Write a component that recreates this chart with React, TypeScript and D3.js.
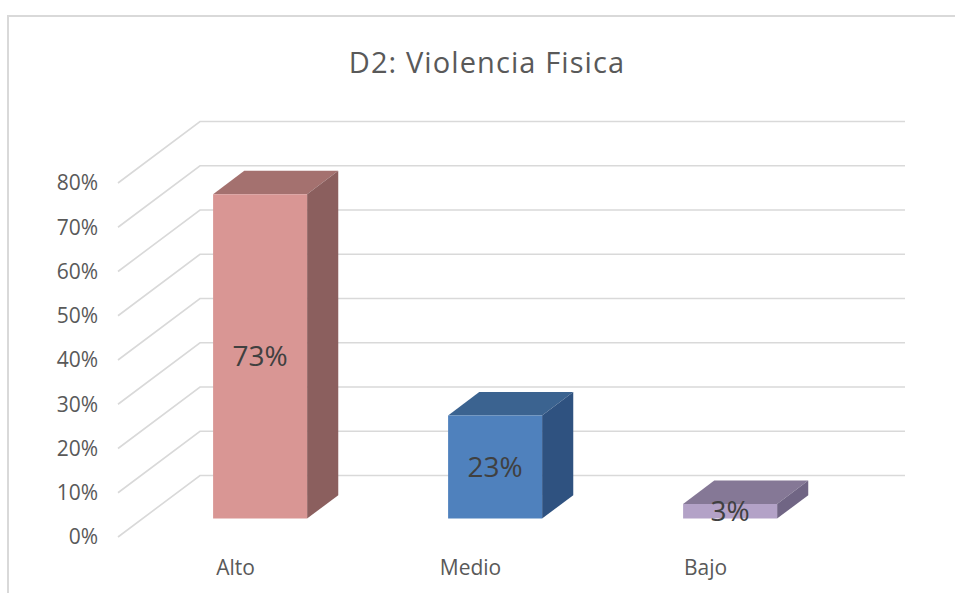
import React, { useEffect, useRef } from "react";
import * as d3 from "d3";

const categories = ["Alto", "Medio", "Bajo"];
const values = [0.733, 0.233, 0.033];
const yTicks = [0, 0.1, 0.2, 0.3, 0.4, 0.5, 0.6, 0.7, 0.8];
const frontColors = ["#D99694", "#4F81BD", "#B3A2C7"];
const topColors = ["#A4716F", "#3B6390", "#857896"];
const sideColors = ["#8B5F5E", "#2F5280", "#706584"];

const App = () => {
  const svgRef = useRef<SVGSVGElement>(null);

  useEffect(() => {
    const width = 955, height = 593;
    const svg = d3.select(svgRef.current);
    svg.selectAll("*").remove();
    svg.attr("width", width).attr("height", height);

    // oblique depth: full depth shifts right and up
    const depthX = 82, depthY = -61.5;
    const y = d3.scaleLinear().domain([0, 0.8]).range([537, 183]);
    const x = d3.scaleBand<string>()
      .domain(categories)
      .range([118, 823])
      .paddingInner(0.6)
      .paddingOuter(0.3);
    const dFront = 0.3, dBack = 0.68;
    const pt = (px: number, v: number, d: number): [number, number] =>
      [px + depthX * d, y(v) + depthY * d];

    // chart frame
    svg.append("path")
      .attr("d", "M8,600V16H960")
      .attr("fill", "none")
      .attr("stroke", "#D9D9D9")
      .attr("stroke-width", 2);

    svg.append("text")
      .attr("x", 487)
      .attr("y", 73)
      .attr("text-anchor", "middle")
      .attr("font-family", "Open Sans")
      .attr("font-size", 29)
      .attr("letter-spacing", 1.1)
      .attr("fill", "#595959")
      .text("D2: Violencia Fisica");

    // side wall diagonals and back wall lines
    const grid = svg.append("g")
      .attr("stroke", "#D9D9D9")
      .attr("stroke-width", 1.6)
      .attr("fill", "none");
    const x0 = x.range()[0], x1 = x.range()[1];
    grid.selectAll("path")
      .data(yTicks)
      .enter()
      .append("path")
      .attr("d", d => d3.line()([pt(x0, d, 0), pt(x0, d, 1), pt(x1, d, 1)]));

    // y labels
    svg.append("g")
      .selectAll("text")
      .data(yTicks)
      .enter()
      .append("text")
      .attr("x", 98)
      .attr("y", d => y(d))
      .attr("dy", "0.35em")
      .attr("text-anchor", "end")
      .attr("font-family", "Open Sans")
      .attr("font-size", 21)
      .attr("fill", "#595959")
      .text(d => d3.format(".0%")(d));

    // bars
    const bars = svg.append("g")
      .selectAll("g")
      .data(values)
      .enter()
      .append("g");

    const bw = x.bandwidth();
    const poly = (pts: [number, number][]) => pts.map(p => p.join(",")).join(" ");

    bars.append("polygon")
      .attr("points", (d, i) => {
        const l = x(categories[i])!;
        return poly([pt(l, d, dFront), pt(l + bw, d, dFront), pt(l + bw, d, dBack), pt(l, d, dBack)]);
      })
      .attr("fill", (d, i) => topColors[i]);

    bars.append("polygon")
      .attr("points", (d, i) => {
        const r = x(categories[i])! + bw;
        return poly([pt(r, 0, dFront), pt(r, d, dFront), pt(r, d, dBack), pt(r, 0, dBack)]);
      })
      .attr("fill", (d, i) => sideColors[i]);

    bars.append("polygon")
      .attr("points", (d, i) => {
        const l = x(categories[i])!;
        return poly([pt(l, 0, dFront), pt(l + bw, 0, dFront), pt(l + bw, d, dFront), pt(l, d, dFront)]);
      })
      .attr("fill", (d, i) => frontColors[i]);

    // data labels centered on the front face
    bars.append("text")
      .attr("x", (d, i) => x(categories[i])! + bw / 2 + depthX * dFront)
      .attr("y", d => (y(d) + y(0)) / 2 + depthY * dFront)
      .attr("dy", "0.35em")
      .attr("text-anchor", "middle")
      .attr("font-family", "Open Sans")
      .attr("font-size", 28)
      .attr("fill", "#404040")
      .text(d => d3.format(".0%")(d));

    // category labels
    svg.append("g")
      .selectAll("text")
      .data(categories)
      .enter()
      .append("text")
      .attr("x", d => x(d)! + bw / 2)
      .attr("y", 575)
      .attr("text-anchor", "middle")
      .attr("font-family", "Open Sans")
      .attr("font-size", 21)
      .attr("fill", "#595959")
      .text(d => d);
  }, []);

  return <svg ref={svgRef} style={{ position: "absolute", left: 0, top: 0 }}></svg>;
};

export default App;
